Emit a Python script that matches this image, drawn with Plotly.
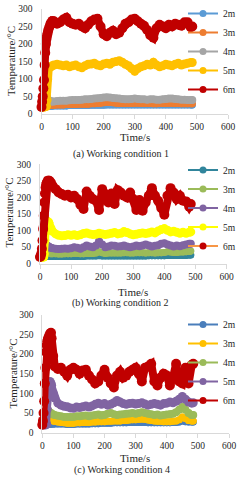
import plotly.graph_objects as go

# ---------------- data ----------------
TIME = [0, 2, 4, 6, 8, 10, 12, 14, 16, 18, 20, 22, 25, 28, 30, 35, 40,
        50, 60, 70, 80, 90, 100, 110, 120, 130, 140,
        150, 160, 170, 180, 190, 200, 210, 220, 230, 240,
        250, 260, 270, 280, 290, 300, 310, 320, 330, 340,
        350, 360, 370, 380, 390, 400, 410, 420, 430, 440,
        450, 460, 470, 480, 485]

SERIES_NAMES = ["2m", "3m", "4m", "5m", "6m"]

# (a) Working condition 1
C1_2m = [20, 20, 20, 20, 20, 20, 21, 22, 22, 22, 22, 22, 22, 22, 22, 23, 23,
         23, 23, 23, 23, 24, 24, 24, 24, 24, 24,
         24, 25, 25, 25, 25, 25, 26, 26, 26, 26,
         26, 26, 26, 26, 26, 26, 26, 26, 26, 26,
         26, 26, 26, 26, 26, 26, 26, 26, 26, 26,
         26, 26, 26, 26, 26]
C1_3m = [20, 20, 20, 20, 20, 20, 22, 25, 27, 26, 25, 25, 25, 25, 25, 25, 25,
         26, 26, 26, 27, 27, 27, 27, 28, 28, 28,
         28, 29, 29, 30, 31, 32, 33, 33, 32, 31,
         30, 30, 30, 30, 30, 31, 31, 30, 30, 30,
         30, 29, 29, 30, 30, 30, 31, 31, 30, 30,
         29, 29, 29, 29, 29]
C1_4m = [20, 20, 20, 20, 20, 22, 30, 45, 52, 48, 42, 40, 38, 37, 36, 36, 36,
         37, 38, 38, 38, 39, 40, 40, 40, 41, 42,
         42, 43, 44, 45, 46, 47, 48, 47, 46, 45,
         44, 43, 42, 42, 43, 44, 43, 42, 42, 41,
         42, 42, 41, 41, 42, 43, 44, 44, 43, 42,
         41, 41, 40, 40, 40]
C1_5m = [20, 20, 20, 20, 20, 21, 21, 22, 22, 40, 100, 130, 132, 134, 135, 138, 140,
         142, 140, 138, 140, 135, 138, 140, 135, 132, 138,
         142, 143, 145, 140, 138, 143, 145, 142, 148, 150,
         152, 148, 142, 138, 130, 122, 130, 135, 138, 142,
         140, 148, 140, 135, 138, 142, 140, 138, 142, 145,
         140, 143, 145, 147, 147]
C1_6m = [20, 35, 50, 73, 97, 140, 175, 200, 215, 225, 232, 240, 248, 255, 260, 266, 265,
         258, 262, 270, 275, 262, 258, 255, 258, 250, 245,
         255, 265, 270, 272, 250, 228, 222, 232, 238, 228,
         232, 245, 258, 262, 270, 272, 265, 258, 252, 240,
         225, 218, 245, 255, 250, 245, 255, 250, 258, 255,
         252, 262, 262, 248, 250]

# (b) Working condition 2
C2_2m = [20, 20, 20, 20, 20, 20, 20, 21, 22, 22, 22, 22, 22, 22, 22, 22, 22,
         22, 22, 22, 22, 22, 22, 22, 22, 22, 22,
         23, 23, 23, 23, 24, 23, 23, 23, 23, 23,
         23, 23, 23, 23, 23, 23, 23, 23, 23, 23,
         24, 24, 24, 24, 24, 24, 25, 25, 25, 25,
         25, 25, 25, 26, 26]
C2_3m = [20, 20, 20, 20, 20, 20, 21, 25, 30, 33, 34, 33, 32, 32, 31, 30, 30,
         30, 29, 29, 30, 30, 30, 31, 31, 30, 30,
         31, 31, 31, 32, 36, 33, 31, 32, 32, 32,
         32, 32, 33, 33, 32, 32, 33, 33, 33, 32,
         33, 33, 32, 33, 33, 34, 36, 35, 34, 34,
         35, 35, 36, 37, 38]
C2_4m = [20, 20, 20, 20, 20, 20, 22, 30, 45, 55, 56, 55, 53, 52, 50, 48, 47,
         45, 44, 45, 46, 45, 47, 50, 48, 45, 50,
         55, 52, 50, 55, 68, 58, 50, 52, 55, 54,
         52, 53, 55, 52, 50, 52, 55, 53, 55, 58,
         55, 52, 54, 56, 60, 62, 58, 55, 52, 55,
         53, 56, 58, 60, 60]
C2_5m = [20, 20, 20, 20, 20, 20, 20, 30, 70, 100, 115, 122, 127, 125, 120, 108, 98,
         90, 86, 84, 85, 87, 86, 87, 85, 87, 91,
         93, 90, 88, 89, 92, 90, 88, 90, 92, 94,
         90, 92, 97, 94, 90, 87, 89, 91, 93, 91,
         93, 96, 93, 99, 103, 106, 101, 96, 98, 95,
         92, 95, 92, 95, 96]
C2_6m = [20, 22, 30, 45, 70, 105, 145, 185, 212, 230, 240, 245, 250, 250, 250, 245, 236,
         225, 215, 210, 205, 208, 200, 205, 195, 178, 165,
         218, 205, 195, 190, 162, 225, 210, 185, 212, 180,
         222, 215, 205, 200, 215, 195, 162, 192, 160, 185,
         205, 228, 205, 190, 168, 148, 205, 228, 215, 195,
         205, 190, 188, 172, 180]

# (c) Working condition 4
C4_2m = [20, 20, 20, 20, 20, 20, 20, 20, 21, 22, 22, 22, 22, 22, 22, 22, 22,
         22, 22, 22, 21, 21, 21, 22, 22, 22, 22,
         22, 23, 23, 23, 24, 24, 24, 24, 25, 25,
         25, 25, 25, 26, 26, 26, 26, 26, 26, 25,
         25, 25, 25, 25, 25, 25, 25, 26, 26, 27,
         30, 28, 27, 27, 27]
C4_3m = [20, 20, 20, 20, 20, 20, 20, 22, 32, 35, 34, 33, 32, 32, 31, 30, 29,
         27, 26, 25, 24, 24, 24, 25, 25, 26, 26,
         26, 27, 27, 28, 28, 28, 29, 29, 30, 30,
         30, 31, 31, 32, 33, 33, 34, 35, 34, 32,
         31, 30, 29, 29, 28, 28, 28, 29, 30, 33,
         40, 36, 31, 30, 30]
C4_4m = [20, 20, 20, 20, 20, 20, 20, 22, 48, 55, 55, 52, 50, 50, 48, 46, 45,
         43, 42, 40, 40, 40, 40, 42, 42, 43, 44,
         42, 44, 45, 46, 44, 45, 48, 50, 47, 45,
         46, 47, 48, 49, 50, 48, 50, 52, 50, 48,
         47, 45, 46, 44, 45, 46, 47, 48, 52, 58,
         65, 58, 50, 45, 45]
C4_5m = [20, 20, 20, 20, 20, 20, 20, 22, 60, 100, 120, 128, 130, 125, 120, 100, 88,
         75, 70, 67, 66, 63, 62, 65, 64, 66, 68,
         65, 68, 72, 75, 72, 74, 70, 72, 76, 82,
         78, 74, 72, 74, 75, 73, 74, 76, 73, 70,
         72, 74, 72, 70, 74, 75, 78, 76, 80, 85,
         92, 85, 78, 75, 76]
C4_6m = [20, 30, 50, 80, 125, 165, 205, 222, 232, 238, 242, 246, 252, 254, 240, 195, 168,
         162, 165, 155, 145, 160, 165, 160, 150, 158, 160,
         145, 135, 125, 130, 145, 160, 140, 125, 115, 145,
         155, 140, 145, 155, 160, 165, 150, 130, 165, 168,
         175, 130, 120, 140, 150, 145, 120, 140, 175, 130,
         125, 165, 125, 172, 175]

PANELS = [
    {"series": [C1_2m, C1_3m, C1_4m, C1_5m, C1_6m],
     "colors": ["#5B9BD5", "#ED7D31", "#A5A5A5", "#FFC000", "#C00000"],
     "linecolors": ["#5B9BD5", "#ED7D31", "#A5A5A5", "#FFC000", "#C00000"],
     "caption": "(a) Working condition 1"},
    {"series": [C2_2m, C2_3m, C2_4m, C2_5m, C2_6m],
     "colors": ["#31859C", "#9BBB59", "#8064A2", "#FFFF00", "#C00000"],
     "linecolors": ["#31859C", "#9BBB59", "#8064A2", "#FFFF00", "#F79646"],
     "caption": "(b) Working condition 2"},
    {"series": [C4_2m, C4_3m, C4_4m, C4_5m, C4_6m],
     "colors": ["#4A7EBB", "#FFC000", "#9BBB59", "#8064A2", "#C00000"],
     "linecolors": ["#4A7EBB", "#FFC000", "#9BBB59", "#8064A2", "#C00000"],
     "caption": "(c) Working condition 4"},
]
BAND_WIDTH = [5, 5, 6, 7, 8]

# ---------------- layout geometry (pixels) ----------------
W, H = 241, 480
# (x0_px, x600_px, y300_px, y0_px)
GEOM = [(41.5, 228.0, 9.0, 114.0),
        (40.0, 226.5, 164.3, 263.7),
        (42.3, 229.0, 314.6, 432.7)]
LEGEND_TOP = [-1.0, 155.5, 310.0]
YTITLE = [(10.5, 61.5), (8.5, 213.0), (12.0, 373.5)]
XTITLE = [(135.0, 137.0), (133.0, 291.7), (135.0, 458.0)]
CAPTION = [(121.0, 154.0), (120.7, 302.7), (121.7, 470.3)]

FONT = "Liberation Serif, Times New Roman, serif"
TXT = "#262626"
AXC = "#D9D9D9"

fig = go.Figure()
annotations = []
layout = {}

for i, p in enumerate(PANELS):
    n = i + 1
    xa = "x" if n == 1 else f"x{n}"
    ya = "y" if n == 1 else f"y{n}"
    lg = "legend" if n == 1 else f"legend{n}"
    for k, (name, vals, col, lcol) in enumerate(zip(SERIES_NAMES, p["series"], p["colors"], p["linecolors"])):
        fig.add_trace(go.Scatter(
            x=TIME, y=vals, name=name, mode="lines+markers",
            xaxis=xa, yaxis=ya, legend=lg, legendgroup=f"{n}{name}",
            line=dict(color=lcol, width=2),
            marker=dict(color=col, size=7, line=dict(width=0)),
            cliponaxis=False,
        ))
        # thick rounded band on top (dense-sampled look)
        bw = BAND_WIDTH[k]
        fig.add_trace(go.Scatter(
            x=TIME, y=vals, name=name, mode="lines+markers",
            xaxis=xa, yaxis=ya, legend=lg, showlegend=False,
            legendgroup=f"{n}{name}",
            line=dict(color=col, width=bw),
            marker=dict(color=col, size=bw + 2, line=dict(width=0)),
            cliponaxis=False, hoverinfo="skip",
        ))
    x0, x6, y3, y0 = GEOM[i]
    layout[f"xaxis{'' if n == 1 else n}"] = dict(
        domain=[x0 / W, x6 / W], anchor=ya, range=[0, 600], dtick=100,
        showline=True, linecolor=AXC, linewidth=1, showgrid=False, zeroline=False,
        ticks="outside", ticklen=4, tickcolor=AXC, tickwidth=1,
        tickfont=dict(family=FONT, size=9.5, color=TXT), automargin=False,
    )
    layout[f"yaxis{'' if n == 1 else n}"] = dict(
        domain=[1 - y0 / H, 1 - y3 / H], anchor=xa, range=[0, 300], dtick=50,
        showline=True, linecolor=AXC, linewidth=1, showgrid=False, zeroline=False,
        ticks="", ticklabelstandoff=6, automargin=False,
        tickfont=dict(family=FONT, size=9.5, color=TXT),
    )
    layout[lg] = dict(
        x=1.0, xanchor="right", y=1 - LEGEND_TOP[i] / H, yanchor="top",
        bgcolor="rgba(0,0,0,0)", borderwidth=0, tracegroupgap=0,
        font=dict(family=FONT, size=9.5, color=TXT),
    )
    tx, ty = YTITLE[i]
    annotations.append(dict(text="Temperature/°C", x=tx / W, y=1 - ty / H, xref="paper", yref="paper",
                            textangle=-90, showarrow=False, xanchor="center", yanchor="middle",
                            font=dict(family=FONT, size=11, color=TXT)))
    tx, ty = XTITLE[i]
    annotations.append(dict(text="Time/s", x=tx / W, y=1 - ty / H, xref="paper", yref="paper",
                            showarrow=False, xanchor="center", yanchor="middle",
                            font=dict(family=FONT, size=11, color=TXT)))
    tx, ty = CAPTION[i]
    annotations.append(dict(text=p["caption"], x=tx / W, y=1 - ty / H, xref="paper", yref="paper",
                            showarrow=False, xanchor="center", yanchor="middle",
                            font=dict(family=FONT, size=10, color=TXT)))

fig.update_layout(
    width=W, height=H, margin=dict(l=0, r=0, t=0, b=0, autoexpand=False),
    paper_bgcolor="white", plot_bgcolor="white",
    annotations=annotations, showlegend=True, **layout,
)

fig.write_html("out.html", config={"displayModeBar": False},
               post_script="document.body.style.margin='0';document.body.style.padding='0';")
